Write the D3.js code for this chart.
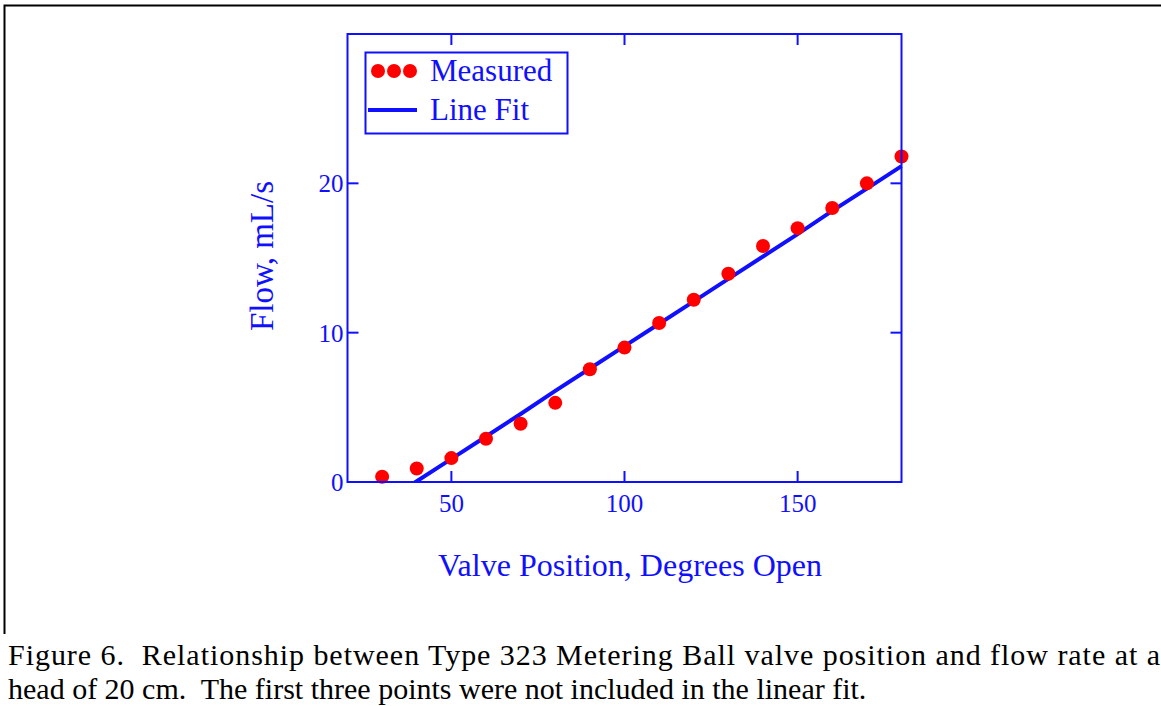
<!DOCTYPE html>
<html>
<head>
<meta charset="utf-8">
<script src="https://cdn.jsdelivr.net/npm/d3@7"></script>
<style>
  body { margin: 0; background: #fff; }
  svg { display: block; font-family: "Liberation Serif", "Times New Roman", serif; }
</style>
</head>
<body>
<div class="chart"></div>
<script>
// valve position (degrees open)
const positions = [30, 40, 50, 60, 70, 80, 90, 100, 110, 120, 130, 140, 150, 160, 170, 180];
// measured flow, mL/s
const measured = [0.35, 0.9, 1.6, 2.9, 3.9, 5.3, 7.55, 9.0, 10.65, 12.2, 13.95, 15.8, 17.0, 18.35, 20.0, 21.8];
// line fit (first three points excluded), read at same positions
const fitValues = [-1.45, 0.05, 1.55, 3.05, 4.55, 6.1, 7.6, 9.1, 10.6, 12.1, 13.6, 15.1, 16.6, 18.15, 19.65, 21.15];
const xTicks = [50, 100, 150];
const yTicks = [0, 10, 20];
const legendLabels = ['Measured', 'Line Fit'];
const captionLines = [
  'Figure 6.  Relationship between Type 323 Metering Ball valve position and flow rate at a',
  'head of 20 cm.  The first three points were not included in the linear fit.'
];

const W = 1161, H = 706;
const blue = '#1010ff', red = '#ff0000';

const svg = d3.select('.chart').append('svg')
    .attr('width', W)
    .attr('height', H);

// table cell border
svg.append('path')
    .attr('d', `M4.5,634 V5.5 H${W}`)
    .attr('fill', 'none')
    .attr('stroke', '#000')
    .attr('stroke-width', 2);

const x = d3.scaleLinear().domain([20, 180]).range([347.5, 901.5]);
const y = d3.scaleLinear().domain([0, 30]).range([482, 34]);

const plot = svg.append('g');

plot.append('clipPath').attr('id', 'clip')
  .append('rect')
    .attr('x', x(20)).attr('y', y(30) - 20)
    .attr('width', x(180) - x(20) + 20)
    .attr('height', y(0) - y(30) + 20);

// fit line
const fitData = positions.map((p, i) => [p, fitValues[i]]);
plot.append('path')
    .datum(fitData)
    .attr('clip-path', 'url(#clip)')
    .attr('fill', 'none')
    .attr('stroke', blue)
    .attr('stroke-width', 4)
    .attr('d', d3.line().x(d => x(d[0])).y(d => y(d[1])));

// measured points
plot.append('g')
  .selectAll('circle')
  .data(positions.map((p, i) => [p, measured[i]]))
  .join('circle')
    .attr('cx', d => x(d[0]))
    .attr('cy', d => y(d[1]))
    .attr('r', 7)
    .attr('fill', red);

// frame
plot.append('rect')
    .attr('x', x(20)).attr('y', y(30))
    .attr('width', x(180) - x(20))
    .attr('height', y(0) - y(30))
    .attr('fill', 'none')
    .attr('stroke', blue)
    .attr('stroke-width', 2);

// inward ticks on all sides
const tickLen = 11;
const ticks = plot.append('g').attr('stroke', blue).attr('stroke-width', 2);
xTicks.forEach(t => {
  ticks.append('line').attr('x1', x(t)).attr('x2', x(t)).attr('y1', y(0)).attr('y2', y(0) - tickLen);
  ticks.append('line').attr('x1', x(t)).attr('x2', x(t)).attr('y1', y(30)).attr('y2', y(30) + tickLen);
});
yTicks.filter(t => t > 0).forEach(t => {
  ticks.append('line').attr('x1', x(20)).attr('x2', x(20) + tickLen).attr('y1', y(t)).attr('y2', y(t));
  ticks.append('line').attr('x1', x(180)).attr('x2', x(180) - tickLen).attr('y1', y(t)).attr('y2', y(t));
});

// tick labels
plot.append('g')
  .selectAll('text')
  .data(xTicks)
  .join('text')
    .attr('x', d => x(d))
    .attr('y', y(0) + 30)
    .attr('text-anchor', 'middle')
    .attr('fill', blue)
    .attr('font-size', 25)
    .text(d => d);

plot.append('g')
  .selectAll('text')
  .data(yTicks)
  .join('text')
    .attr('x', x(20) - 4)
    .attr('y', d => y(d) + 9)
    .attr('text-anchor', 'end')
    .attr('fill', blue)
    .attr('font-size', 25)
    .text(d => d);

// axis titles
svg.append('text')
    .attr('x', 630)
    .attr('y', 576)
    .attr('text-anchor', 'middle')
    .attr('fill', blue)
    .attr('font-size', 32)
    .text('Valve Position, Degrees Open');

svg.append('text')
    .attr('transform', 'translate(273,256) rotate(-90)')
    .attr('text-anchor', 'middle')
    .attr('fill', blue)
    .attr('font-size', 33)
    .text('Flow, mL/s');

// legend
const legend = svg.append('g');
legend.append('rect')
    .attr('x', 365.5).attr('y', 52.5)
    .attr('width', 202).attr('height', 81)
    .attr('fill', '#fff')
    .attr('stroke', blue)
    .attr('stroke-width', 2);
[378, 394, 410].forEach(cx => {
  legend.append('circle').attr('cx', cx).attr('cy', 71).attr('r', 7).attr('fill', red);
});
legend.append('line')
    .attr('x1', 368).attr('x2', 417)
    .attr('y1', 110).attr('y2', 110)
    .attr('stroke', blue).attr('stroke-width', 4);
legend.selectAll('text.lab')
  .data(legendLabels)
  .join('text')
    .attr('class', 'lab')
    .attr('x', 430)
    .attr('y', (d, i) => 81 + i * 39)
    .attr('fill', blue)
    .attr('font-size', 31)
    .text(d => d);

// caption (first line stretched to the page width)
const caption = svg.append('g')
  .selectAll('text')
  .data(captionLines)
  .join('text')
    .attr('x', 8)
    .attr('y', (d, i) => 665 + i * 34)
    .attr('fill', '#000')
    .attr('font-size', 30)
    .style('white-space', 'pre')
    .text(d => d);

caption.filter((d, i) => i === 0)
    .attr('textLength', 1152)
    .attr('lengthAdjust', 'spacing');
</script>
</body>
</html>
